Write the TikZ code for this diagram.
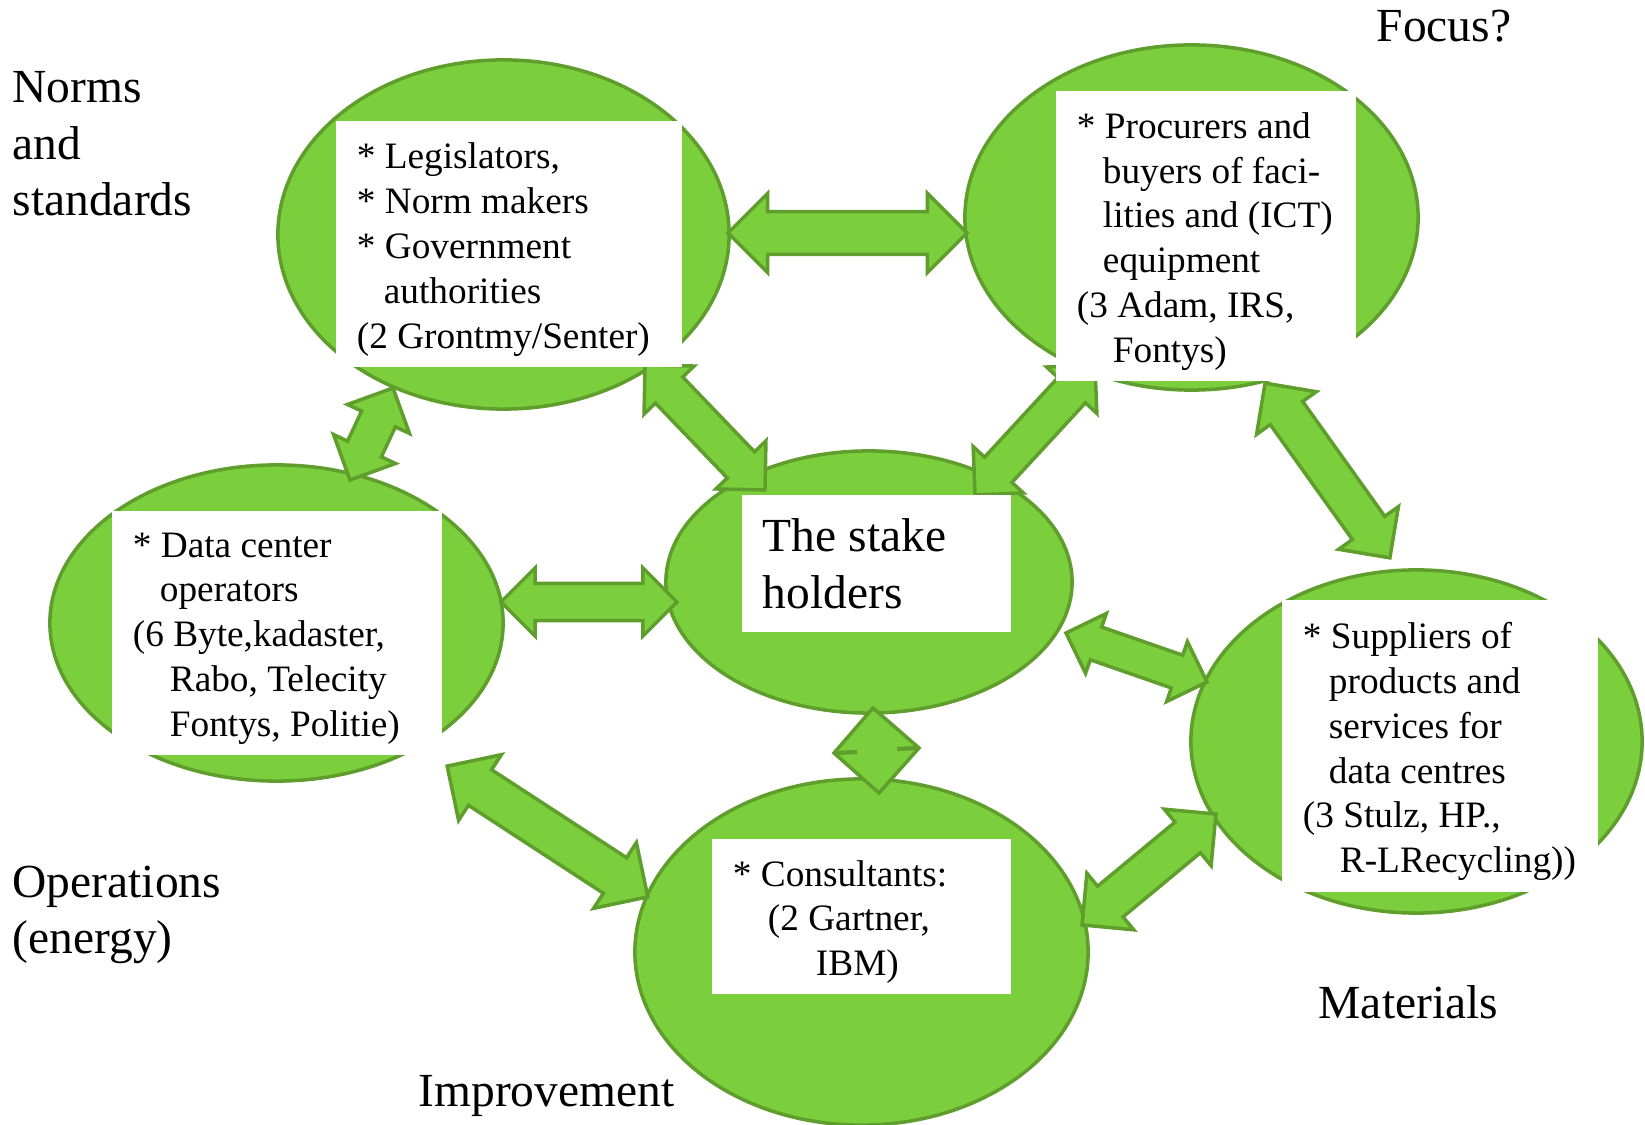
\documentclass[tikz,border=0pt]{standalone}
\usepackage{fontspec}
\setmainfont{Liberation Serif}
\usepackage{tikz}
\usetikzlibrary{calc,shapes.geometric,shapes.arrows}
\definecolor{leafgreen}{HTML}{7CCF3C}
\definecolor{mossgreen}{HTML}{5F9E2C}

\tikzset{
	leaf/.style={draw=mossgreen, fill=leafgreen, line width=1pt},
	hub/.style={leaf, ellipse, inner sep=0pt},
	card/.style={rectangle, fill=white, inner sep=0pt},
	cardtext/.style={anchor=west, align=left, inner sep=0pt, xshift=0.21cm, yshift=-0.055cm, font=\fontsize{10.6}{12.75}\selectfont},
	bigtext/.style={anchor=west, align=left, inner sep=0pt, font=\fontsize{13.5}{16.1}\selectfont},
	link/.style={leaf, double arrow, inner xsep=0pt, inner ysep={0.0026cm*#1},
		double arrow head extend={0.0024cm*#1}, double arrow tip angle=90, minimum width=0pt},
}

\newcommand{\linkarrow}[3]{%
	\path let \p1=(#1), \p2=(#2), \n1={atan2(\y2-\y1,\x2-\x1)}, \n2={veclen(\x2-\x1,\y2-\y1)} in
		node[link=#3, minimum height=\n2, rotate=\n1] (#1#2) at ($(#1)!0.5!(#2)$) {};%
}

\begin{document}
\begin{tikzpicture}[x=0.01cm, y=-0.01cm]

% canvas %{{{2

	\useasboundingbox (0,0) rectangle (1645,1125);

% hubs %{{{2

	\node[hub, minimum width=4.51cm, minimum height=3.49cm] (norms) at (503.5,234.5) {};
	\node[hub, minimum width=4.53cm, minimum height=3.45cm] (procurers) at (1191.5,217.5) {};
	\node[hub, minimum width=4.53cm, minimum height=3.16cm] (operators) at (276.5,623) {};
	\node[hub, minimum width=4.06cm, minimum height=2.62cm] (stake) at (869,582) {};
	\node[hub, minimum width=4.51cm, minimum height=3.43cm] (suppliers) at (1416.5,741.5) {};
	\node[hub, minimum width=4.53cm, minimum height=3.46cm] (consultants) at (861.5,952) {};

% arrow tips %{{{2

	\coordinate (NP) at (728,233);
	\coordinate (PN) at (967,233);

	\coordinate (NO) at (393,388);
	\coordinate (ON) at (350,480);

	\coordinate (NS) at (645,365);
	\coordinate (SN) at (765,490);

	\coordinate (PS) at (1095,365);
	\coordinate (SP) at (975,495);

	\coordinate (PU) at (1265,383);
	\coordinate (UP) at (1390,558);

	\coordinate (OS) at (501,602);
	\coordinate (SO) at (677,602);

	\coordinate (SU) at (1066,633);
	\coordinate (US) at (1207,682);

	\coordinate (OC) at (447,766);
	\coordinate (CO) at (648,897);

	\coordinate (UC) at (1216,814);
	\coordinate (CU) at (1082,925);

% arrows %{{{2

	\linkarrow{NP}{PN}{76}
	\linkarrow{NO}{ON}{65}
	\linkarrow{NS}{SN}{66}
	\linkarrow{PS}{SP}{65}
	\linkarrow{PU}{UP}{70}
	\linkarrow{OS}{SO}{65}
	\linkarrow{SU}{US}{60}
	\linkarrow{OC}{CO}{75}
	\linkarrow{UC}{CU}{70}

% squeezed arrow between stake and consultants %{{{2

	\coordinate (DT) at (873,708);
	\coordinate (DR) at (919,748);
	\coordinate (DB) at (879,793);
	\coordinate (DL) at (834,753);

	\draw[leaf] (DT) -- (DR) -- (DB) -- (DL) -- cycle;
	\draw[mossgreen, line width=1.2pt] ($(DL)+(3,0)$) -- ($(DL)+(23,-1)$);
	\draw[mossgreen, line width=1.2pt] ($(DR)+(-22,1)$) -- ($(DR)+(-1,0)$);

% cards %{{{2

	\node[card, minimum width=3.46cm, minimum height=2.46cm] (normscard) at (509,244) {};
	\node[card, minimum width=3.00cm, minimum height=2.90cm] (procurerscard) at (1206,236) {};
	\node[card, minimum width=3.30cm, minimum height=2.44cm] (operatorscard) at (277,633) {};
	\node[card, minimum width=2.69cm, minimum height=1.37cm] (stakecard) at (876.5,563.5) {};
	\node[card, minimum width=3.16cm, minimum height=2.92cm] (supplierscard) at (1440,746) {};
	\node[card, minimum width=2.99cm, minimum height=1.55cm] (consultantscard) at (861.5,916.5) {};

% card texts %{{{2

	\node[cardtext] (normstext) at (normscard.west)
		{* Legislators,\\{*} Norm makers\\{*} Government\\\hspace*{0.27cm}authorities\\(2 Grontmy/Senter)};
	\node[cardtext] (procurerstext) at (procurerscard.west)
		{* Procurers and\\\hspace*{0.26cm}buyers of faci-\\\hspace*{0.26cm}lities and (ICT)\\\hspace*{0.26cm}equipment\\(3 Adam, IRS,\\\hspace*{0.36cm}Fontys)};
	\node[cardtext] (operatorstext) at (operatorscard.west)
		{* Data center\\\hspace*{0.27cm}operators\\(6 Byte,kadaster,\\\hspace*{0.37cm}Rabo, Telecity\\\hspace*{0.37cm}Fontys, Politie)};
	\node[bigtext, xshift=0.21cm] (staketext) at (stakecard.west) {The stake\\holders};
	\node[cardtext] (supplierstext) at (supplierscard.west)
		{* Suppliers of\\\hspace*{0.26cm}products and\\\hspace*{0.26cm}services for\\\hspace*{0.26cm}data centres\\(3 Stulz, HP.,\\\hspace*{0.37cm}R-LRecycling))};
	\node[cardtext] (consultantstext) at (consultantscard.west)
		{* Consultants:\\\hspace*{0.35cm}(2 Gartner,\\\hspace*{0.83cm}IBM)};

% outer labels %{{{2

	\node[bigtext] (focuslabel) at (1376,26) {Focus?};
	\node[bigtext] (normslabel) at (12,144) {Norms\\and\\standards};
	\node[bigtext] (operationslabel) at (12,915) {Operations\\(energy)};
	\node[bigtext] (materialslabel) at (1318,1002) {Materials};
	\node[bigtext] (improvementlabel) at (418,1096) {Improvement};

% closing %{{{2

\end{tikzpicture}
\end{document}
